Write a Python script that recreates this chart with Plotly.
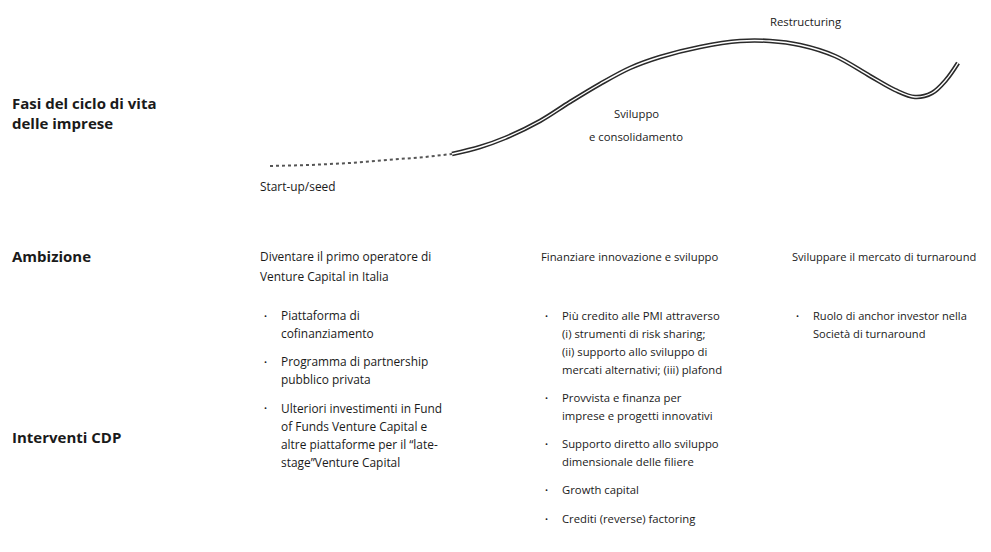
import plotly.graph_objects as go

# ---- data ----
# life-cycle curve (horizontal position, height of the curve)
start_x = [270, 310, 350, 390, 425, 452]
start_y = [166, 165, 163, 160, 157, 154]
curve_x = [452, 480, 505, 540, 570, 600, 630, 660, 700, 740, 770, 800, 835, 870, 895, 915, 932, 946, 958]
curve_y = [154, 147, 138, 121, 102, 84, 68, 57, 47, 41, 41, 45, 56, 76, 90, 97, 93, 80, 63]

row_labels = ["Fasi del ciclo di vita<br>delle imprese", "Ambizione", "Interventi CDP"]

phase_labels = ["Start-up/seed", "Sviluppo", "e consolidamento", "Restructuring"]

ambitions = [
    ["Diventare il primo operatore di", "Venture Capital in Italia"],
    ["Finanziare innovazione e sviluppo"],
    ["Sviluppare il mercato di turnaround"],
]

interventions = [
    [
        ["Piattaforma di", "cofinanziamento"],
        ["Programma di partnership", "pubblico privata"],
        ["Ulteriori investimenti in Fund", "of Funds Venture Capital e",
         "altre piattaforme per il \u201clate-", "stage\u201dVenture Capital"],
    ],
    [
        ["Più credito alle PMI attraverso", "(i) strumenti di risk sharing;",
         "(ii) supporto allo sviluppo di", "mercati alternativi; (iii) plafond"],
        ["Provvista e finanza per", "imprese e progetti innovativi"],
        ["Supporto diretto allo sviluppo", "dimensionale delle filiere"],
        ["Growth capital"],
        ["Crediti (reverse) factoring"],
    ],
    [
        ["Ruolo di anchor investor nella", "Società di turnaround"],
    ],
]

# ---- layout parameters ----
FONT = "Open Sans"
TXT = "#1a1a1a"
col_x = [258, 539, 790]
col_size = [11.9, 11.3, 11.1]
bullet_dx = 4
text_dx = 21
amb_y = 256
amb_lh = 20
int_y0 = 315
int_lh = 18.0
int_gap = 10.3
OFF = 8  # compensates the page margin

fig = go.Figure()

# dotted start of the curve
fig.add_trace(go.Scatter(x=start_x, y=start_y, mode="lines",
                         line=dict(color="#555", width=2, dash="dot"),
                         hoverinfo="skip", showlegend=False))
# double outlined curve
fig.add_trace(go.Scatter(x=curve_x, y=curve_y, mode="lines", line_shape="spline",
                         line=dict(color="#2a2a2a", width=4.5),
                         hoverinfo="skip", showlegend=False))
fig.add_trace(go.Scatter(x=curve_x, y=curve_y, mode="lines", line_shape="spline",
                         line=dict(color="#ffffff", width=1.4),
                         hoverinfo="skip", showlegend=False))

ann = []

def add_text(x, y, text, size=11.3, bold=False, anchor="left"):
    ann.append(dict(x=x, y=y, xref="x", yref="y", text=text, showarrow=False,
                    xanchor=anchor, yanchor="middle", align="left",
                    font=dict(family=FONT, size=size, color=TXT,
                              weight=700 if bold else 400)))

# row labels
add_text(10, 113, row_labels[0], size=15, bold=True)
add_text(10, 256, row_labels[1], size=15, bold=True)
add_text(10, 437, row_labels[2], size=15, bold=True)

# phase labels
add_text(258, 186, phase_labels[0], size=col_size[0])
add_text(636, 113, phase_labels[1], anchor="center")
add_text(636, 136, phase_labels[2], anchor="center")
add_text(805, 21, phase_labels[3], anchor="center")

# ambitions
for cx, sz, lines in zip(col_x, col_size, ambitions):
    for i, ln in enumerate(lines):
        add_text(cx, amb_y + i * amb_lh, ln, size=sz)

# interventions
for cx, sz, bullets in zip(col_x, col_size, interventions):
    y = int_y0
    for b in bullets:
        add_text(cx + bullet_dx, y, "\u2022", size=8)
        for ln in b:
            add_text(cx + text_dx, y, ln, size=sz)
            y += int_lh
        y += int_gap

fig.update_layout(
    width=991, height=552,
    margin=dict(l=0, r=0, t=0, b=0),
    paper_bgcolor="white", plot_bgcolor="white",
    xaxis=dict(range=[OFF, 991 + OFF], visible=False, fixedrange=True),
    yaxis=dict(range=[552 + OFF, OFF], visible=False, fixedrange=True),
    annotations=ann,
    showlegend=False,
)

fig.write_html("out.html")
